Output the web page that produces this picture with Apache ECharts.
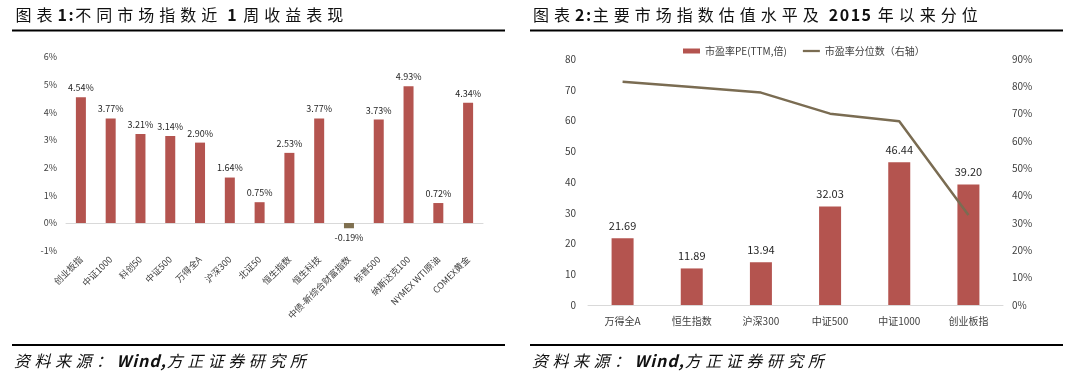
<!DOCTYPE html>
<html><head><meta charset="utf-8">
<script src="https://cdn.jsdelivr.net/npm/echarts@6/dist/echarts.min.js"></script>
<style>html,body{margin:0;padding:0;background:#fff}#c{width:1080px;height:388px}</style>
</head><body><div id="c"></div>
<script>
// ---------- data ----------
const leftTitle = '图表1:不同市场指数近 1 周收益表现';
const rightTitle = '图表2:主要市场指数估值水平及 2015 年以来分位';
const sourceNote = '资料来源：Wind,方正证券研究所';

const returnCategories = ['创业板指', '中证1000', '科创50', '中证500', '万得全A', '沪深300', '北证50',
  '恒生指数', '恒生科技', '中债-新综合财富指数', '标普500', '纳斯达克100', 'NYMEX WTI原油', 'COMEX黄金'];
const weeklyReturns = [4.54, 3.77, 3.21, 3.14, 2.90, 1.64, 0.75, 2.53, 3.77, -0.19, 3.73, 4.93, 0.72, 4.34];
const returnAxisTicks = [-1, 0, 1, 2, 3, 4, 5, 6];

const peCategories = ['万得全A', '恒生指数', '沪深300', '中证500', '中证1000', '创业板指'];
const peValues = [21.69, 11.89, 13.94, 32.03, 46.44, 39.20];
const pePercentiles = [81.7, 79.8, 77.7, 70.0, 67.2, 32.9];
const peAxisTicks = [0, 10, 20, 30, 40, 50, 60, 70, 80];
const pctAxisTicks = [0, 10, 20, 30, 40, 50, 60, 70, 80, 90];
const legendNames = ['市盈率PE(TTM,倍)', '市盈率分位数（右轴）'];

// ---------- style ----------
const FONT = '"Noto Sans CJK SC", "Noto Sans", sans-serif';
const RED = '#b4544f';
const NEG = '#7f7050';
const LINE = '#7a6c52';
const AXIS = '#d9d9d9';
const TXT = '#404040';

const mctx = document.createElement('canvas').getContext('2d');
function isCJK(ch) { return /[\u3000-\u9fff\uff00-\uffef]/.test(ch); }
function spacedText(str, x0, y, size, o) {
  const els = []; let x = x0;
  for (const ch of str) {
    const cjk = isCJK(ch);
    const weight = cjk ? 'normal' : (o.latinWeight || 'normal');
    const style = o.italic ? 'italic' : 'normal';
    const font = style + ' ' + weight + ' ' + size + 'px ' + FONT;
    mctx.font = font;
    const w = mctx.measureText(ch).width;
    if (ch !== ' ') {
      els.push({ type: 'text', x: x, y: y, silent: true,
        style: { text: ch, font: font, fill: o.color || '#111',
          align: 'left', verticalAlign: 'middle', textAlign: 'left', textVerticalAlign: 'middle' } });
    }
    x += w + (cjk ? o.cjkGap : o.latinGap);
  }
  return els;
}
function hline(x1, x2, y) {
  return { type: 'rect', silent: true, shape: { x: x1, y: y, width: x2 - x1, height: 2 }, style: { fill: '#000' } };
}

const graphics = []
  .concat(spacedText(leftTitle, 15.5, 15, 16, { cjkGap: 5, latinGap: 1.5, latinWeight: 'bold' }))
  .concat(spacedText(rightTitle, 533, 15, 16, { cjkGap: 5, latinGap: 1.5, latinWeight: 'bold' }))
  .concat(spacedText(sourceNote, 14, 361, 16, { cjkGap: 4.5, latinGap: 1, latinWeight: 'bold', italic: true }))
  .concat(spacedText(sourceNote, 532, 361, 16, { cjkGap: 4.5, latinGap: 1, latinWeight: 'bold', italic: true }))
  .concat([hline(12, 505, 29.5), hline(530, 1063, 29.5), hline(12, 505, 344), hline(530, 1063, 344)]);

const chart = echarts.init(document.getElementById('c'), null, { renderer: 'canvas' });
chart.setOption({
  animation: false,
  backgroundColor: '#fff',
  textStyle: { fontFamily: FONT },
  graphic: graphics,
  legend: {
    left: 678, top: 41, itemWidth: 17, itemHeight: 5, itemGap: 16,
    textStyle: { fontSize: 10, color: TXT, fontFamily: FONT },
    data: [
      { name: legendNames[0], icon: 'rect' },
      { name: legendNames[1], icon: 'path://M0 0H30V4H0Z', itemStyle: { color: LINE } }
    ]
  },
  grid: [
    { left: 66, right: 1080 - 483, top: 56.7, bottom: 388 - 250.7 },
    { left: 588, right: 1080 - 1003, top: 59, bottom: 388 - 305 }
  ],
  xAxis: [
    { gridIndex: 0, type: 'category', data: returnCategories, position: 'bottom',
      axisLine: { onZero: true, lineStyle: { color: AXIS, width: 1 } }, axisTick: { show: false }, axisLabel: { show: false } },
    { gridIndex: 0, type: 'category', data: returnCategories, position: 'bottom',
      axisLine: { show: false, onZero: false }, axisTick: { show: false },
      axisLabel: { interval: 0, rotate: 45, fontSize: 9, color: TXT, margin: 7, fontFamily: FONT } },
    { gridIndex: 1, type: 'category', data: peCategories,
      axisLine: { lineStyle: { color: AXIS, width: 1 } }, axisTick: { show: false },
      axisLabel: { interval: 0, fontSize: 10, color: TXT, margin: 11, fontFamily: FONT } }
  ],
  yAxis: [
    { gridIndex: 0, type: 'value', min: returnAxisTicks[0], max: returnAxisTicks[returnAxisTicks.length - 1], interval: 1,
      splitLine: { show: false }, axisLine: { show: false }, axisTick: { show: false },
      axisLabel: { formatter: '{value}%', fontSize: 9, color: TXT, margin: 9 } },
    { gridIndex: 1, type: 'value', min: peAxisTicks[0], max: peAxisTicks[peAxisTicks.length - 1], interval: 10,
      splitLine: { show: false }, axisLine: { show: false }, axisTick: { show: false },
      axisLabel: { fontSize: 10, color: TXT, margin: 12 } },
    { gridIndex: 1, type: 'value', position: 'right', min: pctAxisTicks[0], max: pctAxisTicks[pctAxisTicks.length - 1], interval: 10,
      splitLine: { show: false }, axisLine: { show: false }, axisTick: { show: false },
      axisLabel: { formatter: '{value}%', fontSize: 10, color: TXT, margin: 9 } }
  ],
  series: [
    { type: 'bar', xAxisIndex: 0, yAxisIndex: 0, barWidth: 10,
      itemStyle: { color: RED },
      label: { show: true, position: 'top', distance: 5, fontSize: 9, color: '#262626',
        formatter: p => p.value.toFixed(2) + '%' },
      data: weeklyReturns.map(v => v < 0 ? { value: v, itemStyle: { color: NEG }, label: { position: 'bottom' } } : v) },
    { type: 'bar', name: legendNames[0], xAxisIndex: 2, yAxisIndex: 1, barWidth: 22,
      itemStyle: { color: RED },
      label: { show: true, position: 'top', distance: 7, fontSize: 11, color: '#262626',
        formatter: p => p.value.toFixed(2) },
      data: peValues },
    { type: 'line', name: legendNames[1], xAxisIndex: 2, yAxisIndex: 2, z: 5,
      symbol: 'none', showSymbol: false,
      lineStyle: { color: LINE, width: 2.5 }, itemStyle: { color: LINE },
      data: pePercentiles }
  ]
});
</script>
</body></html>
